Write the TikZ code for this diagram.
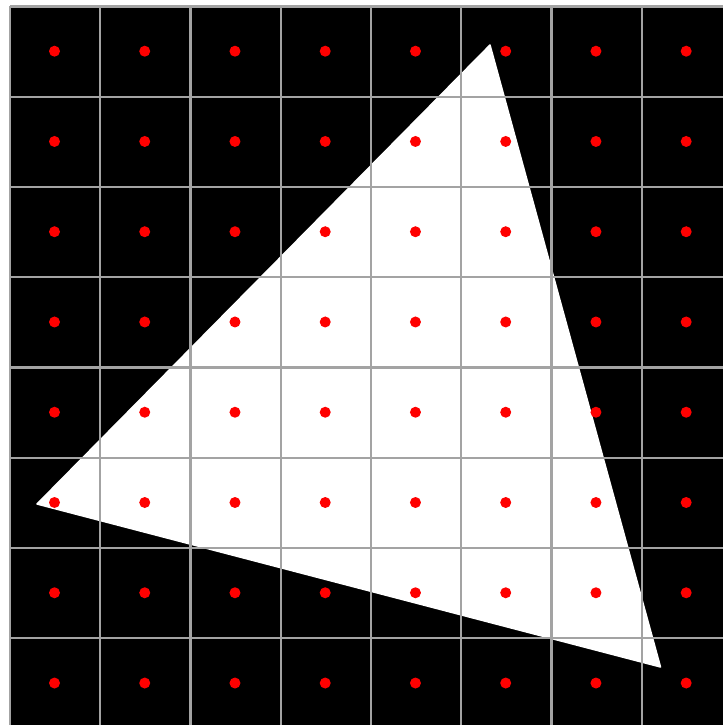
\documentclass[tikz,border=0pt]{standalone}
\begin{document}
\begin{tikzpicture}[x=1pt,y=-1pt,
  gridline/.style={draw=black!36,line width=2.3pt},
  sample/.style={fill=red},
  tri/.style={fill=white,draw=white,line width=1.5pt,line join=round}]
\useasboundingbox (0,0) rectangle (723,725);
\begin{scope}
\clip (0,0) rectangle (723,725);
\fill[black] (10,6.5) rectangle (723,725);
\filldraw[tri] (490,45) -- (37,504) -- (660.5,667) -- cycle;
\foreach \i in {0,...,8}{
  \draw[gridline] ({10+90.24*\i},6.5) -- ({10+90.24*\i},725);
  \draw[gridline] (10,{6.5+90.26*\i}) -- (723,{6.5+90.26*\i});
}
\foreach \i in {0,...,7}{
  \foreach \j in {0,...,7}{
    \fill[sample] ({54.5+90.24*\i},{51.2+90.26*\j}) circle (5.5);
  }
}
\end{scope}
\end{tikzpicture}
\end{document}
